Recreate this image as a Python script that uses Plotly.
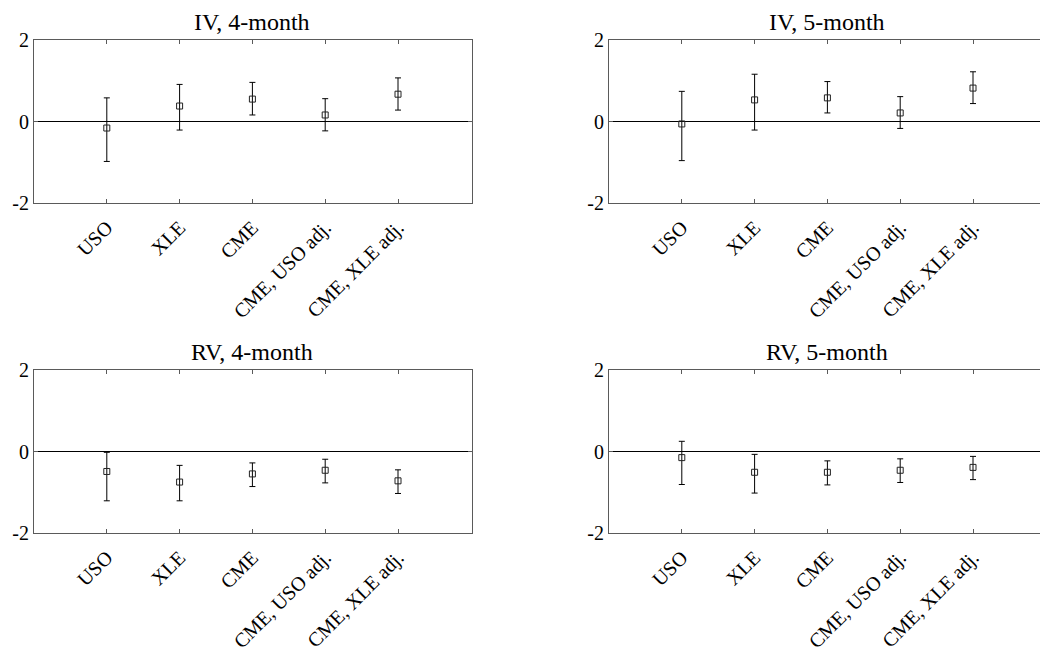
import plotly.graph_objects as go

# Categories on the x axis (positions 1..5)
categories = ["USO", "XLE", "CME", "CME, USO adj.", "CME, XLE adj."]

# Point estimates and confidence bounds for each panel
iv4_est = [-0.16, 0.38, 0.55, 0.16, 0.67]
iv4_lo = [-0.98, -0.21, 0.16, -0.23, 0.28]
iv4_hi = [0.58, 0.91, 0.96, 0.56, 1.07]

iv5_est = [-0.06, 0.53, 0.58, 0.21, 0.82]
iv5_lo = [-0.96, -0.21, 0.21, -0.17, 0.44]
iv5_hi = [0.74, 1.16, 0.98, 0.61, 1.22]

rv4_est = [-0.49, -0.75, -0.55, -0.46, -0.72]
rv4_lo = [-1.21, -1.21, -0.86, -0.77, -1.03]
rv4_hi = [-0.02, -0.34, -0.28, -0.19, -0.45]

rv5_est = [-0.15, -0.51, -0.51, -0.46, -0.39]
rv5_lo = [-0.81, -1.02, -0.82, -0.76, -0.69]
rv5_hi = [0.25, -0.07, -0.23, -0.18, -0.12]

panel_titles = ["IV, 4-month", "IV, 5-month", "RV, 4-month", "RV, 5-month"]
y_ticks = [-2, 0, 2]

panels = [
    (iv4_est, iv4_lo, iv4_hi),
    (iv5_est, iv5_lo, iv5_hi),
    (rv4_est, rv4_lo, rv4_hi),
    (rv5_est, rv5_lo, rv5_hi),
]

FONT = "Liberation Serif"
AXIS_GREY = "#5a5a5a"

W, H = 1040, 660
ML, MR, MT, MB = 34, 0, 40, 127
plot_w = W - ML - MR
plot_h = H - MT - MB

# Axis boxes in pixel coordinates (left, right, top, bottom)
px_left = (34, 472)
px_right = (609, 1040)
px_top = (40, 203)
px_bot = (370, 533)
unit_px = 72.8  # pixels per category step


def xdom(a, b):
    return [(a - ML) / plot_w, (b - ML) / plot_w]


def ydom(t, b):
    return [(H - MB - b) / plot_h, (H - MB - t) / plot_h]


boxes = [
    (px_left, px_top),
    (px_right, px_top),
    (px_left, px_bot),
    (px_right, px_bot),
]

fig = go.Figure()
xs = list(range(1, len(categories) + 1))

for i, ((est, lo, hi), (bx, by)) in enumerate(zip(panels, boxes)):
    n = i + 1
    xa = "x" if n == 1 else f"x{n}"
    ya = "y" if n == 1 else f"y{n}"
    fig.add_trace(go.Scatter(
        x=xs, y=est, mode="markers",
        xaxis=xa, yaxis=ya,
        marker=dict(symbol="square-open", size=6, color="#222",
                    line=dict(width=1, color="#222")),
        error_y=dict(type="data", symmetric=False,
                     array=[h - e for h, e in zip(hi, est)],
                     arrayminus=[e - l for e, l in zip(est, lo)],
                     color="black", thickness=1, width=3),
        showlegend=False, cliponaxis=False,
    ))

    xmax = (bx[1] - bx[0]) / unit_px
    is_right = bx[0] > 300
    axkey = "xaxis" if n == 1 else f"xaxis{n}"
    aykey = "yaxis" if n == 1 else f"yaxis{n}"
    fig.layout[axkey] = dict(
        domain=xdom(*bx), anchor=ya, range=[0, xmax],
        tickmode="array", tickvals=xs, ticktext=categories,
        tickangle=-45, ticks="inside", ticklen=4, tickcolor=AXIS_GREY,
        ticklabelstandoff=4, automargin=False,
        showline=True, linecolor=AXIS_GREY, linewidth=1,
        mirror="allticks", showgrid=False, zeroline=False,
        tickfont=dict(family=FONT, size=20, color="black"),
        fixedrange=True,
    )
    fig.layout[aykey] = dict(
        domain=ydom(*by), anchor=xa, range=[-2, 2],
        tickmode="array", tickvals=y_ticks, ticktext=["-2", "0", "2"],
        ticks="inside", ticklen=4, tickcolor=AXIS_GREY,
        automargin=False,
        showline=True, linecolor=AXIS_GREY, linewidth=1,
        mirror=False if is_right else "allticks",
        showgrid=False, zeroline=True, zerolinecolor="black",
        zerolinewidth=1,
        tickfont=dict(family=FONT, size=20, color="black"),
        fixedrange=True,
    )
    # title centred over the full 0..6 span of the axis box
    cx = (bx[0] + 3 * unit_px - ML) / plot_w
    fig.add_annotation(
        text=panel_titles[i], showarrow=False,
        xref="paper", yref="paper",
        x=cx, y=ydom(*by)[1], yanchor="bottom", xanchor="center", yshift=3,
        font=dict(family=FONT, size=24, color="black"),
    )

fig.update_layout(
    width=W, height=H,
    margin=dict(l=ML, r=MR, t=MT, b=MB, autoexpand=False),
    paper_bgcolor="white", plot_bgcolor="white",
)

fig.write_html("out.html")
